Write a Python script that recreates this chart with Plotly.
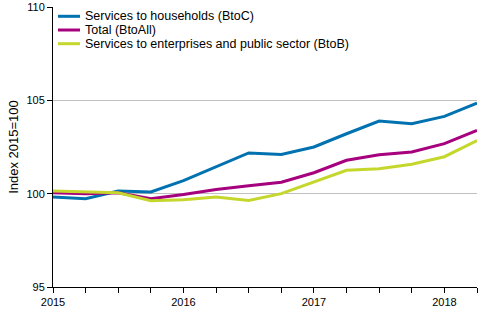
import plotly.graph_objects as go

quarters = list(range(14))
tick_labels = ["2015", "", "", "", "2016", "", "", "", "2017", "", "", "", "2018", ""]

btoc = [99.82, 99.73, 100.14, 100.09, 100.70, 101.45, 102.18, 102.10, 102.50, 103.21, 103.89, 103.75, 104.14, 104.85]
btoall = [100.05, 100.00, 100.05, 99.73, 99.95, 100.22, 100.42, 100.61, 101.12, 101.79, 102.09, 102.23, 102.68, 103.39]
btob = [100.14, 100.09, 100.05, 99.62, 99.68, 99.82, 99.64, 100.00, 100.62, 101.25, 101.34, 101.58, 101.98, 102.84]

names = ["Services to households (BtoC)", "Total (BtoAll)", "Services to enterprises and public sector (BtoB)"]
colors = ["#0072b0", "#a6007e", "#c5d72c"]

fig = go.Figure()
for name, vals, col in zip(names, [btoc, btoall, btob], colors):
    fig.add_trace(go.Scatter(x=quarters, y=vals, mode="lines", name=name,
                             line=dict(color=col, width=3), showlegend=False))

# Legend drawn as line samples + text in paper coordinates
L, R, T, B = 53, 23, 7, 43
pw, ph = 500 - L - R, 330 - T - B
row_y = [16.3, 30.0, 43.7]
for name, col, py in zip(names, colors, row_y):
    yp = (330 - B - py) / ph
    fig.add_shape(type="line", xref="paper", yref="paper",
                  x0=(58 - L) / pw, x1=(80 - L) / pw, y0=yp, y1=yp,
                  line=dict(color=col, width=3))
    fig.add_annotation(xref="paper", yref="paper", x=(84 - L) / pw, y=yp,
                       xanchor="left", yanchor="middle", text=name, showarrow=False,
                       borderpad=0, font=dict(size=12.5, color="black"))

fig.update_layout(
    width=500, height=330,
    margin=dict(l=L, r=R, t=T, b=B, autoexpand=False),
    paper_bgcolor="white", plot_bgcolor="white",
    font=dict(family="Liberation Sans, Arial, sans-serif", size=13, color="#000000"),
    showlegend=False,
)
fig.update_xaxes(range=[0, 13], tickvals=quarters, ticktext=tick_labels,
                 showline=True, linecolor="black", linewidth=1,
                 ticks="outside", ticklen=5, tickcolor="black", automargin=False,
                 showgrid=False, zeroline=False, tickfont=dict(size=11))
fig.update_yaxes(range=[95, 110], tickvals=[95, 100, 105, 110],
                 showline=True, linecolor="black", linewidth=1,
                 ticks="outside", ticklen=5, tickcolor="black", automargin=False,
                 showgrid=True, gridcolor="#c0c0c0", gridwidth=1, zeroline=False,
                 tickfont=dict(size=11),
                 title=dict(text="Index 2015=100", font=dict(size=13), standoff=4))

fig.write_html("out.html")
